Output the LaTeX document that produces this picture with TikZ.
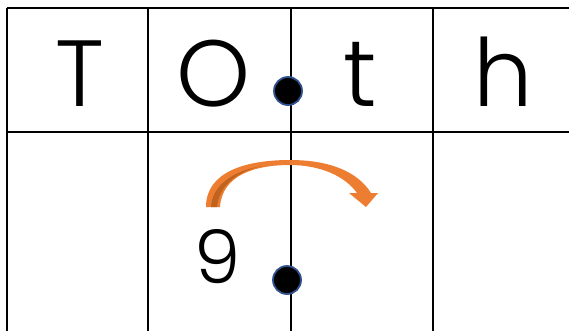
\documentclass[tikz,border=0pt]{standalone}
\usepackage{fontspec}
\setmainfont{Poppins}[UprightFont=* Light]
\definecolor{arroworange}{HTML}{ED7D31}
\definecolor{arrowdark}{HTML}{C0631F}
\definecolor{dotedge}{HTML}{2F528F}
\begin{document}
\begin{tikzpicture}[x=1pt,y=-1pt,
  gridline/.style={line width=1.6pt,black},
  bigletter/.style={anchor=base,inner sep=0pt,font=\fontsize{94}{94}\selectfont},
  digit/.style={anchor=base,inner sep=0pt,font=\fontsize{74}{74}\selectfont},
  pointdot/.style={circle,fill=black,draw=dotedge,line width=1.8pt,minimum size=28pt,inner sep=0pt}]
\useasboundingbox (0,0) rectangle (569,330);
\fill[white] (0,0) rectangle (569,330);
% grid
\draw[gridline] (7,8) -- (569,8);
\draw[gridline] (7,132) -- (569,132);
\foreach \gx in {7,148,291,433} \draw[gridline] (\gx,8) -- (\gx,331);
% letters
\node[bigletter] (T) at (80,106) {T};
\node[bigletter] (O) at (214,106) {O};
\node[bigletter] (t) at (360,106) {t};
\node[bigletter] (h) at (503,106) {h};
\node[digit] (nine) at (218,283) {9};
% dots
\node[pointdot] (d1) at (288,91) {};
\node[pointdot] (d2) at (287,280) {};
% curved arrow
\fill[arroworange] (206,207) .. controls (206,172) and (245,160) .. (290,160)
  .. controls (330,160) and (358,172) .. (371,193) -- (378,193) -- (366,207) -- (349,193) -- (357,193)
  .. controls (345,176) and (320,165) .. (290,165)
  .. controls (255,165) and (222,175) .. (220,207) -- cycle;
\fill[arrowdark] (211,207) .. controls (212,186) and (232,171) .. (262,166)
  .. controls (236,172) and (219,186) .. (217,207) -- cycle;
\end{tikzpicture}
\end{document}
